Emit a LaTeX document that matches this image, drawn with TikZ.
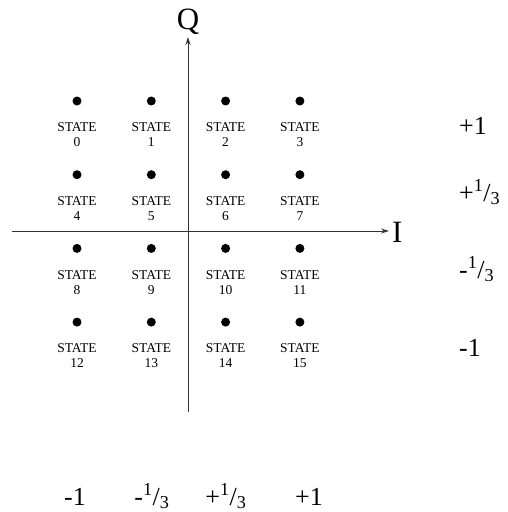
\documentclass[tikz,border=0pt]{standalone}
\usepackage{fontspec}
\setmainfont{Liberation Serif}
\usetikzlibrary{arrows.meta, positioning}
\newcommand{\thrd}{\textsuperscript{1}/\textsubscript{3}}

\begin{document}
\begin{tikzpicture}[x=1pt,y=-1pt]
\tikzset{
  dot/.style={circle,fill=black,inner sep=0pt,minimum size=9pt},
  st/.style={font=\fontsize{13.5}{15}\selectfont,align=center,inner sep=0pt},
  ax/.style={-{Stealth[length=8pt,width=5pt]},line width=0.9pt,draw=black!80},
  lv/.style={font=\fontsize{26}{26}\selectfont,inner sep=0pt,anchor=base},
  axl/.style={font=\fontsize{31}{31}\selectfont,inner sep=0pt}
}
\useasboundingbox (0,0) rectangle (507,512);
% constellation points
\foreach \r in {0,...,3}{
  \foreach \c in {0,...,3}{
    \pgfmathtruncatemacro{\n}{4*\r+\c}
    \node[dot] (dot\n) at ({77+74.3*\c},{101+73.7*\r}) {};
    \node[st,below=17pt of dot\n] (st\n) {STATE\\\n};
  }
}
% axes
\coordinate (qb) at (188,412);
\coordinate (qt) at (188,37);
\coordinate (il) at (12,231);
\coordinate (ir) at (389,231);
\draw[ax] (qb) -- (qt);
\draw[ax] (il) -- (ir);
\node[axl,anchor=base] (q) at (188,29) {Q};
\node[axl,anchor=base west] (i) at (392,242) {I};
% level labels
\foreach \t/\y [count=\k] in {+1/134,+\thrd/201,-\thrd/278,-1/356}{
  \node[lv,anchor=base west] (rl\k) at (459,\y) {\t};
}
\foreach \t/\x [count=\k] in {-1/75,-\thrd/152,+\thrd/226,+1/309}{
  \node[lv] (cl\k) at (\x,505) {\t};
}
\end{tikzpicture}
\end{document}
